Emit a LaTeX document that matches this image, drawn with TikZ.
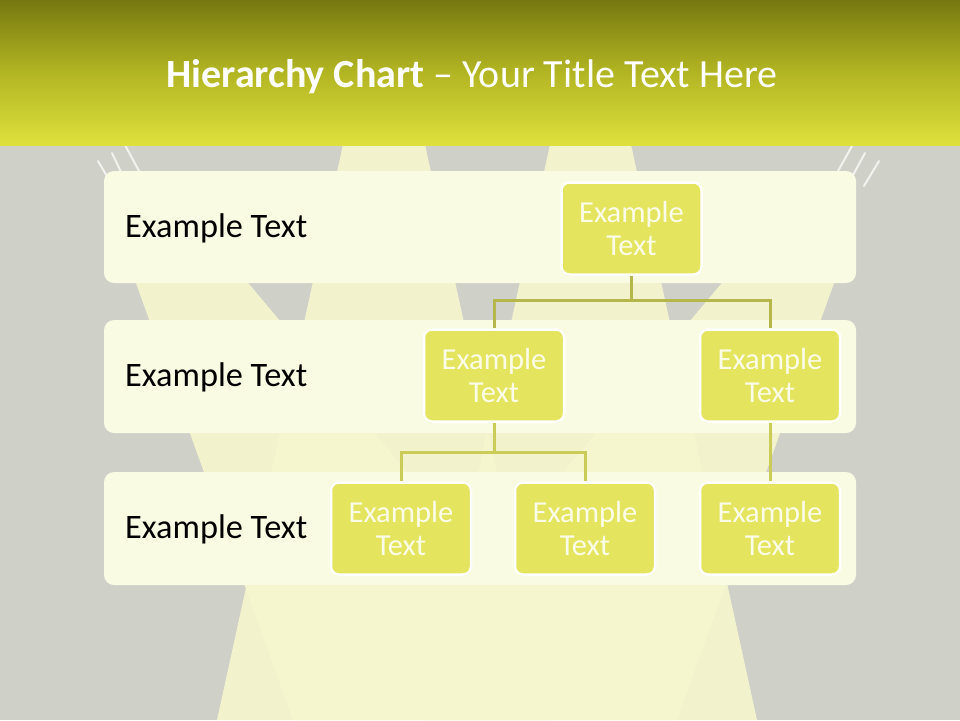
\documentclass[tikz,border=0pt]{standalone}
\usepackage{fontspec}
\setmainfont{Carlito}
\definecolor{bgc}{HTML}{CFD0C8}
\definecolor{beamc}{HTML}{F6F7CE}
\definecolor{bandc}{HTML}{FAFBE3}
\definecolor{boxc}{HTML}{E4E45E}
\definecolor{boxtext}{HTML}{FBFCE8}
\definecolor{connAc}{HTML}{B6B74B}
\definecolor{connBc}{HTML}{CBCC57}
\definecolor{hT}{HTML}{767810}
\definecolor{hM}{HTML}{B2B522}
\definecolor{hB}{HTML}{DEE03C}
\definecolor{tickc}{HTML}{F2F2EE}
\begin{document}
\begin{tikzpicture}[x=1pt,y=-1pt,
  beam/.style={fill=beamc, opacity=0.9},
  tickline/.style={draw=tickc, line width=2pt, line cap=round},
  bandbox/.style={fill=bandc, rounded corners=10pt, minimum width=752pt, minimum height=113pt, inner sep=0pt},
  orgbox/.style={fill=boxc, draw=white, line width=2.5pt, rounded corners=8pt, minimum width=140pt, minimum height=92pt, align=center, text=boxtext, font=\fontsize{30.5}{33.5}\selectfont, inner sep=0pt},
  rowlabel/.style={anchor=base west, font=\fontsize{34.3}{37}\selectfont, text=black, inner sep=0pt},
  connA/.style={draw=connAc, line width=3pt},
  connB/.style={draw=connBc, line width=3pt},
  titletext/.style={anchor=base, text=white, font=\fontsize{40}{44}\selectfont, inner sep=0pt}]
\useasboundingbox (0,0) rectangle (960,720);
% background
\fill[bgc] (0,0) rectangle (960,720);
% light beams
\fill[beam] (344,140) -- (424,140) -- (551,720) -- (217,720) -- cycle;
\fill[beam] (551,140) -- (630,140) -- (757,720) -- (424,720) -- cycle;
\fill[beam] (114,222) -- (197,222) -- (615,720) -- (293,720) -- cycle;
\fill[beam] (856,222) -- (773,222) -- (355,720) -- (677,720) -- cycle;
% ticks
\draw[tickline] (98,161) -- (108,178);
\draw[tickline] (112,153) -- (122,174);
\draw[tickline] (125,145) -- (139,171);
\draw[tickline] (852,146) -- (838,171);
\draw[tickline] (865,153) -- (852,177);
\draw[tickline] (879,161) -- (864,186);
% header
\shade[top color=hT, bottom color=hM] (0,0) rectangle (960,72);
\shade[top color=hM, bottom color=hB] (0,71.5) rectangle (960,145);
\node[titletext] (title) at (472,87) {\bfseries Hierarchy Chart\mdseries\ – Your Title Text Here};
% bands
\node[bandbox, minimum height=112pt] (band1) at (480,227) {};
\node[bandbox] (band2) at (480,376.5) {};
\node[bandbox] (band3) at (480,528.5) {};
\node[rowlabel] (lab1) at (125,237) {Example Text};
\node[rowlabel] (lab2) at (125,386.5) {Example Text};
\node[rowlabel] (lab3) at (125,538.5) {Example Text};
% junctions
\coordinate (j1) at (631.5,300);
\coordinate (j2) at (494,452);
% boxes
\node[orgbox] (top) at (631.5,228.5) {Example\\Text};
\node[orgbox] (mA) at (494,375.5) {Example\\Text};
\node[orgbox] (mB) at (770,375.5) {Example\\Text};
\node[orgbox] (bA) at (401,528.5) {Example\\Text};
\node[orgbox] (bB) at (585,528.5) {Example\\Text};
\node[orgbox] (bC) at (770,528.5) {Example\\Text};
% connectors
\draw[connA] (top.south) -- (j1);
\draw[connA] (mA.north) |- (j1) -| (mB.north);
\draw[connB] (mA.south) -- (j2);
\draw[connB] (bA.north) |- (j2) -| (bB.north);
\draw[connB] (mB.south) -- (bC.north);
\end{tikzpicture}
\end{document}
